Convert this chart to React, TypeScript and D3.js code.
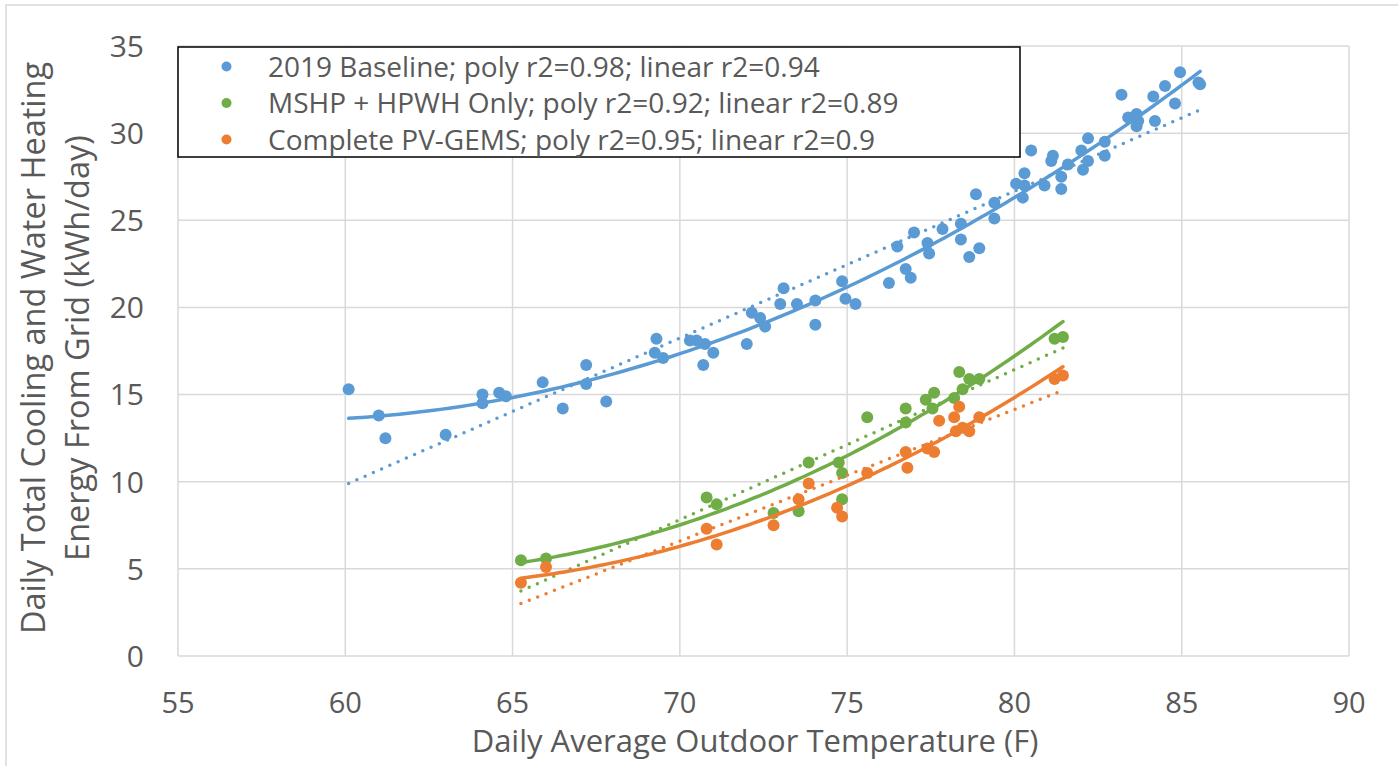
import React from 'react'
import * as d3 from 'd3'

// data
const baselineTemp = [60.1, 61.0, 61.2, 63.0, 64.1, 64.1, 64.6, 64.8, 65.9, 66.5, 67.2, 67.2, 67.8, 69.3, 69.25, 69.5, 70.3, 70.5, 70.75, 71.0, 70.7, 72.0, 72.15, 72.4, 72.55, 73.0, 73.1, 73.5, 74.05, 74.05, 74.85, 74.95, 75.25, 76.25, 76.5, 76.75, 76.9, 77.0, 77.4, 77.45, 77.85, 78.4, 78.4, 78.65, 78.95, 78.85, 79.4, 79.4, 80.05, 80.3, 80.3, 80.25, 80.5, 80.9, 81.15, 81.1, 81.4, 81.4, 81.6, 82.0, 82.2, 82.05, 82.2, 82.7, 82.7, 83.2, 83.4, 83.65, 83.7, 83.65, 84.15, 84.2, 84.5, 84.8, 84.95, 85.5, 85.55]
const baselineEnergy = [15.3, 13.8, 12.5, 12.7, 15.0, 14.5, 15.1, 14.9, 15.7, 14.2, 16.7, 15.6, 14.6, 18.2, 17.4, 17.1, 18.1, 18.1, 17.9, 17.4, 16.7, 17.9, 19.7, 19.4, 18.9, 20.2, 21.1, 20.2, 20.4, 19.0, 21.5, 20.5, 20.2, 21.4, 23.5, 22.2, 21.7, 24.3, 23.7, 23.1, 24.5, 24.8, 23.9, 22.9, 23.4, 26.5, 26.0, 25.1, 27.1, 27.7, 27.0, 26.3, 29.0, 27.0, 28.7, 28.4, 27.5, 26.8, 28.2, 29.0, 29.7, 27.9, 28.4, 29.5, 28.7, 32.2, 30.9, 31.1, 30.7, 30.4, 32.1, 30.7, 32.7, 31.7, 33.5, 32.9, 32.8]

const mshpTemp = [65.25, 66.0, 70.8, 71.1, 72.8, 73.55, 73.85, 74.85, 74.75, 74.85, 75.6, 76.75, 76.75, 77.35, 77.6, 77.55, 78.2, 78.45, 78.35, 78.65, 78.95, 81.2, 81.45]
const mshpEnergy = [5.5, 5.6, 9.1, 8.7, 8.2, 8.3, 11.1, 9.0, 11.1, 10.5, 13.7, 14.2, 13.4, 14.7, 15.1, 14.2, 14.8, 15.3, 16.3, 15.9, 15.9, 18.2, 18.3]

const pvTemp = [65.25, 66.0, 70.8, 71.1, 72.8, 73.55, 73.85, 74.7, 74.85, 75.6, 76.75, 76.8, 77.4, 77.6, 77.75, 78.2, 78.35, 78.25, 78.45, 78.65, 78.95, 81.2, 81.45]
const pvEnergy = [4.2, 5.1, 7.3, 6.4, 7.5, 9.0, 9.9, 8.5, 8.0, 10.5, 11.7, 10.8, 11.9, 11.7, 13.5, 13.7, 14.3, 12.9, 13.1, 12.9, 13.7, 15.9, 16.1]

const seriesNames = [
  '2019 Baseline; poly r2=0.98; linear r2=0.94',
  'MSHP + HPWH Only; poly r2=0.92; linear r2=0.89',
  'Complete PV-GEMS; poly r2=0.95; linear r2=0.9',
]
const seriesColors = ['#5B9BD5', '#70AD47', '#ED7D31']

const xTicks = [55, 60, 65, 70, 75, 80, 85, 90]
const yTicks = [0, 5, 10, 15, 20, 25, 30, 35]

const W = 1398, H = 766
const font = '"Open Sans", "Noto Sans", sans-serif'
const textColor = '#595959'

// least squares polynomial fit (Excel style trendline)
function polyFit(xs: number[], ys: number[], order: number) {
  const n = order + 1
  const m = xs.map(x => d3.range(n).map(k => Math.pow(x, k)))
  const A = d3.range(n).map(i => d3.range(n).map(j => d3.sum(m, r => r[i] * r[j])))
  const b = d3.range(n).map(i => d3.sum(m, (r, k) => r[i] * ys[k]))
  for (let i = 0; i < n; i++) {
    let p = i
    for (let r = i + 1; r < n; r++) if (Math.abs(A[r][i]) > Math.abs(A[p][i])) p = r
    ;[A[i], A[p]] = [A[p], A[i]]
    ;[b[i], b[p]] = [b[p], b[i]]
    for (let r = i + 1; r < n; r++) {
      const f = A[r][i] / A[i][i]
      for (let c = i; c < n; c++) A[r][c] -= f * A[i][c]
      b[r] -= f * b[i]
    }
  }
  const c = new Array(n).fill(0)
  for (let i = n - 1; i >= 0; i--) {
    let s = b[i]
    for (let j = i + 1; j < n; j++) s -= A[i][j] * c[j]
    c[i] = s / A[i][i]
  }
  return (x: number) => c.reduce((acc, ck, k) => acc + ck * Math.pow(x, k), 0)
}

export default function App() {
  const left = 178, right = 1349, top = 46, bottom = 656
  const x = d3.scaleLinear().domain([55, 90]).range([left, right])
  const y = d3.scaleLinear().domain([0, 35]).range([bottom, top])

  const series = [
    { t: baselineTemp, e: baselineEnergy },
    { t: mshpTemp, e: mshpEnergy },
    { t: pvTemp, e: pvEnergy },
  ].map((s, i) => {
    const pts = s.t.map((t, k) => [t, s.e[k]] as [number, number])
    const [lo, hi] = d3.extent(s.t) as [number, number]
    const xs = d3.range(0, 101).map(k => lo + (hi - lo) * k / 100)
    const poly = polyFit(s.t, s.e, 2)
    const lin = polyFit(s.t, s.e, 1)
    const line = d3.line<number[]>().x(d => x(d[0])).y(d => y(d[1]))
    return {
      pts,
      color: seriesColors[i],
      polyPath: line(xs.map(v => [v, poly(v)])) || '',
      linPath: line(xs.map(v => [v, lin(v)])) || '',
    }
  })

  return (
    <svg width={W} height={H} style={{ position: 'absolute', left: 0, top: 0, background: '#fff' }} fontFamily={font}>
      <rect x={6} y={5} width={W} height={H} fill="#fff" stroke="#d9d9d9" strokeWidth={1.5} />
      {/* gridlines */}
      {xTicks.map(t => (
        <line key={'gx' + t} x1={x(t)} x2={x(t)} y1={top} y2={bottom} stroke="#d9d9d9" strokeWidth={1.5} />
      ))}
      {yTicks.map(t => (
        <line key={'gy' + t} x1={left} x2={right} y1={y(t)} y2={y(t)} stroke="#d9d9d9" strokeWidth={1.5} />
      ))}
      {/* tick labels */}
      {yTicks.map(t => (
        <text key={'ty' + t} x={144} y={y(t)} dy="0.36em" textAnchor="end" fontSize={30} fill={textColor}>{t}</text>
      ))}
      {xTicks.map(t => (
        <text key={'tx' + t} x={x(t)} y={713} textAnchor="middle" fontSize={29} fill={textColor}>{t}</text>
      ))}
      {/* axis titles */}
      <text x={755} y={752} textAnchor="middle" fontSize={31} fill={textColor}>Daily Average Outdoor Temperature (F)</text>
      <g transform="translate(45,348) rotate(-90)">
        <text x={0} y={0} textAnchor="middle" fontSize={32.5} fill={textColor}>Daily Total Cooling and Water Heating</text>
        <text x={0} y={44} textAnchor="middle" fontSize={32.5} fill={textColor}>Energy From Grid (kWh/day)</text>
      </g>
      {/* series */}
      {series.map((s, i) => (
        <g key={'s' + i}>
          {s.pts.map((p, k) => (
            <circle key={k} cx={x(p[0])} cy={y(p[1])} r={6} fill={s.color} />
          ))}
          <path d={s.polyPath} fill="none" stroke={s.color} strokeWidth={3.5} strokeLinecap="round" />
          <path d={s.linPath} fill="none" stroke={s.color} strokeWidth={3.5} strokeLinecap="round" strokeDasharray="0 9" />
        </g>
      ))}
      {/* legend */}
      <rect x={178} y={47} width={842} height={110} fill="#fff" stroke="#000" strokeWidth={1.5} />
      {seriesNames.map((name, i) => (
        <g key={'l' + i} transform={`translate(0,${66.5 + i * 36.5})`}>
          <circle cx={226.5} cy={0} r={5} fill={seriesColors[i]} />
          <text x={268} y={0} dy="0.36em" fontSize={28} fill={textColor}>{name}</text>
        </g>
      ))}
    </svg>
  )
}
